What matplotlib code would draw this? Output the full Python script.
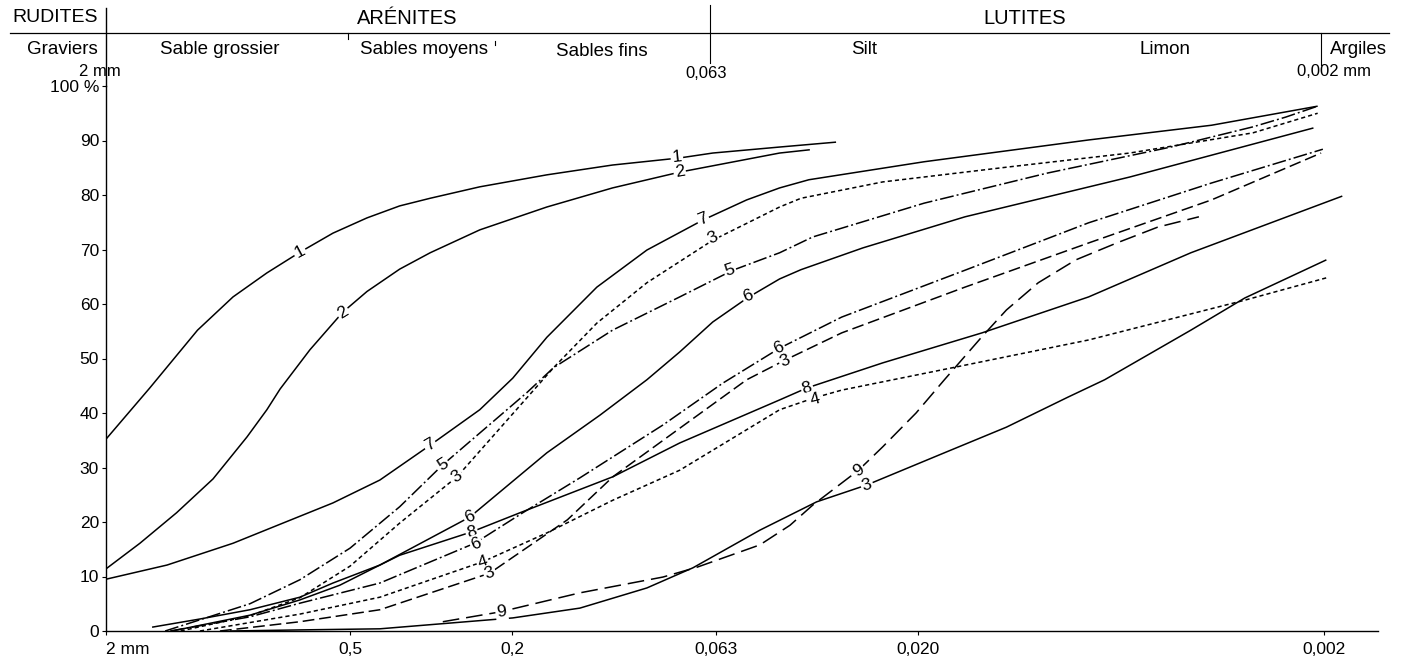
import matplotlib
matplotlib.use("Agg")
import matplotlib.pyplot as plt
from matplotlib.lines import Line2D

plt.rcParams['font.family'] = ['Liberation Sans', 'DejaVu Sans']
plt.rcParams['lines.scale_dashes'] = False

# ---------------- data (grain size in mm, cumulative %) ----------------
c1_size = [2.0, 1.56, 1.19, 0.973, 0.803, 0.666, 0.552, 0.455, 0.378, 0.318, 0.240, 0.164, 0.113, 0.0772, 0.0640, 0.0438, 0.0318]
c1_pct = [35.2, 44.6, 55.2, 61.3, 65.7, 69.5, 73.0, 75.8, 78.0, 79.4, 81.5, 83.7, 85.5, 86.8, 87.7, 88.8, 89.7]

c2_size = [2.0, 1.65, 1.34, 1.09, 0.899, 0.803, 0.745, 0.629, 0.522, 0.455, 0.378, 0.318, 0.240, 0.164, 0.113, 0.0772, 0.0438, 0.0369]
c2_pct = [11.4, 16.1, 21.7, 27.9, 35.6, 40.6, 44.4, 51.6, 58.5, 62.3, 66.4, 69.4, 73.6, 77.8, 81.3, 84.2, 87.7, 88.3]

c7_size = [2.0, 1.415, 0.973, 0.733, 0.552, 0.423, 0.318, 0.240, 0.199, 0.164, 0.1235, 0.0930, 0.0677, 0.0528, 0.0438, 0.0371, 0.0193, 0.00759, 0.00378, 0.00207]
c7_pct = [9.5, 12.1, 16.1, 19.8, 23.5, 27.7, 34.1, 40.6, 46.4, 53.9, 63.1, 69.9, 75.4, 79.1, 81.3, 82.8, 86.1, 90.1, 92.8, 96.3]

c5_size = [1.43, 0.884, 0.666, 0.501, 0.378, 0.296, 0.184, 0.158, 0.113, 0.0772, 0.0571, 0.0438, 0.0363, 0.0193, 0.00962, 0.00476, 0.00299, 0.00248, 0.00207]
c5_pct = [0, 5.0, 9.4, 15.2, 22.8, 30.5, 43.7, 48.3, 55.2, 61.3, 66.2, 69.4, 72.3, 78.5, 84.0, 88.8, 92.5, 94.3, 96.3]

c3a_size = [1.31, 0.884, 0.666, 0.501, 0.378, 0.273, 0.158, 0.1235, 0.0930, 0.0640, 0.0438, 0.0388, 0.0244, 0.0121, 0.00601, 0.00299, 0.00207]
c3a_pct = [0, 2.8, 6.1, 11.9, 19.8, 28.3, 48.3, 56.5, 63.9, 71.7, 77.8, 79.4, 82.4, 85.1, 87.7, 91.4, 95.0]

c6a_size = [1.375, 0.884, 0.666, 0.531, 0.423, 0.254, 0.164, 0.1214, 0.0930, 0.0772, 0.0640, 0.0524, 0.0438, 0.0388, 0.0273, 0.0153, 0.00601, 0.00212]
c6a_pct = [0, 2.9, 5.7, 8.4, 12.1, 20.9, 32.7, 39.6, 46.1, 51.2, 56.7, 61.2, 64.6, 66.3, 70.3, 76.0, 83.3, 92.3]

c8_size = [1.54, 1.174, 0.884, 0.666, 0.552, 0.423, 0.378, 0.251, 0.191, 0.1128, 0.0772, 0.0438, 0.0375, 0.0244, 0.0139, 0.00759, 0.00425, 0.00180]
c8_pct = [0.7, 2.2, 3.9, 6.2, 8.8, 12.1, 13.9, 18.2, 21.7, 28.3, 34.5, 42.4, 44.6, 49.2, 54.7, 61.3, 69.4, 79.8]

c6b_size = [1.39, 0.884, 0.666, 0.423, 0.247, 0.188, 0.136, 0.0849, 0.0604, 0.0438, 0.0308, 0.0153, 0.00759, 0.00378, 0.00201]
c6b_pct = [0, 2.6, 5.1, 8.8, 16.1, 21.7, 28.1, 37.8, 45.5, 51.9, 57.6, 66.2, 74.9, 82.2, 88.4]

c4_size = [1.174, 0.666, 0.423, 0.236, 0.164, 0.1128, 0.0772, 0.0438, 0.0359, 0.0308, 0.0162, 0.00759, 0.00313, 0.00197]
c4_pct = [0, 3.1, 6.2, 12.7, 18.0, 24.0, 29.5, 40.6, 42.8, 44.2, 48.4, 53.4, 60.7, 64.8]

c3b_size = [1.048, 0.666, 0.423, 0.227, 0.146, 0.1128, 0.0772, 0.0528, 0.0425, 0.0308, 0.0153, 0.00759, 0.00378, 0.00203]
c3b_pct = [0, 1.7, 3.9, 10.6, 20.4, 28.3, 37.2, 46.1, 49.7, 54.7, 63.1, 71.2, 79.1, 87.7]

c9_size = [0.296, 0.214, 0.136, 0.0849, 0.0700, 0.0490, 0.0413, 0.0363, 0.0280, 0.0244, 0.0202, 0.0172, 0.0139, 0.0121, 0.0101, 0.00816, 0.00647, 0.00513, 0.00406]
c9_pct = [1.7, 3.5, 7.0, 9.9, 11.7, 15.8, 19.4, 23.1, 29.5, 33.8, 40.0, 46.1, 54.0, 58.9, 63.9, 68.1, 71.2, 74.1, 76.0]

c3c_size = [0.990, 0.666, 0.423, 0.199, 0.136, 0.0930, 0.0716, 0.0490, 0.0355, 0.0267, 0.0172, 0.0121, 0.00854, 0.00693, 0.00425, 0.00313, 0.00197]
c3c_pct = [0, 0.2, 0.4, 2.4, 4.2, 7.9, 11.6, 18.5, 23.7, 26.8, 32.7, 37.4, 42.9, 46.1, 55.2, 61.1, 68.1]

# curve labels: text, size (mm), percent, rotation
label_text = ['1', '1', '2', '2', '7', '7', '5', '5', '3', '3', '6', '6', '8', '8',
              '6', '6', '4', '4', '3', '3', '9', '9', '3']
label_size = [0.666, 0.0785, 0.522, 0.0772, 0.318, 0.0677, 0.296, 0.0581, 0.273, 0.0640, 0.254, 0.0524, 0.251, 0.0375,
              0.245, 0.0440, 0.236, 0.0359, 0.227, 0.0425, 0.212, 0.0280, 0.0267]
label_pct = [69.5, 87.0, 58.5, 84.2, 34.1, 75.6, 30.5, 66.2, 28.3, 72.1, 20.9, 61.5, 18.0, 44.6,
             16.0, 52.0, 12.6, 42.5, 10.6, 49.6, 3.5, 29.5, 26.8]
label_rot = [28, 6, 32, 10, 30, 22, 32, 18, 35, 26, 24, 22, 15, 17,
             22, 25, 18, 15, 20, 24, 8, 35, 18]

x_ticks = [2, 0.5, 0.2, 0.063, 0.020, 0.002]
x_ticklabels = ['2 mm', '0,5', '0,2', '0,063', '0,020', '0,002']
y_ticks = [0, 10, 20, 30, 40, 50, 60, 70, 80, 90, 100]
y_ticklabels = ['0', '10', '20', '30', '40', '50', '60', '70', '80', '90', '100 %']

# ---------------- styles ----------------
SOLID = '-'
DOTTED = (0, (3.0, 2.2))
DASHDOT = (0, (10, 2.2, 1.4, 2.2))
LDASH = (0, (8.5, 3.5))
XLDASH = (0, (12, 5))

curves = [
    (c1_size, c1_pct, SOLID), (c2_size, c2_pct, SOLID), (c7_size, c7_pct, SOLID),
    (c5_size, c5_pct, DASHDOT), (c3a_size, c3a_pct, DOTTED), (c6a_size, c6a_pct, SOLID),
    (c8_size, c8_pct, SOLID), (c6b_size, c6b_pct, DASHDOT), (c4_size, c4_pct, DOTTED),
    (c3b_size, c3b_pct, LDASH), (c9_size, c9_pct, XLDASH), (c3c_size, c3c_pct, SOLID),
]

W, H = 1404, 661
fig = plt.figure(figsize=(W / 100, H / 100), dpi=100)
fig.patch.set_facecolor('white')

def fx(px):
    return px / W

def fy(py):
    return 1 - py / H

ax_l, ax_r, ax_t, ax_b = 106, 1378, 86, 631
ax = fig.add_axes([fx(ax_l), fy(ax_b), fx(ax_r) - fx(ax_l), fy(ax_t) - fy(ax_b)])
ax.set_xscale('log')
ax.set_xlim(2.0, 0.00147)
ax.set_ylim(0, 100)

for xs, ys, ls in curves:
    ax.plot(xs, ys, color='black', lw=1.1, linestyle=ls, solid_capstyle='butt',
            solid_joinstyle='round', zorder=2)

for t, xs, ys, r in zip(label_text, label_size, label_pct, label_rot):
    ax.text(xs, ys, t, fontsize=12.5, ha='center', va='center', rotation=r,
            rotation_mode='anchor', zorder=4,
            bbox=dict(boxstyle='square,pad=0.08', fc='white', ec='none'))

ax.set_xticks(x_ticks)
ax.set_xticklabels(x_ticklabels, fontsize=12.5)
ax.xaxis.set_minor_locator(matplotlib.ticker.NullLocator())
ax.set_yticks(y_ticks)
ax.set_yticklabels(y_ticklabels, fontsize=12.5)
ax.tick_params(axis='x', direction='out', length=3, width=0.8, pad=5)
ax.tick_params(axis='y', direction='out', length=3, width=0.8, pad=2)
ax.get_xticklabels()[0].set_horizontalalignment('left')

for s in ['top', 'right']:
    ax.spines[s].set_visible(False)
ax.spines['left'].set_linewidth(1.0)
ax.spines['bottom'].set_linewidth(1.0)

# ---------------- header ----------------
def hline(x0, x1, y, lw=1.0):
    fig.add_artist(Line2D([fx(x0), fx(x1)], [fy(y), fy(y)], color='black', lw=lw))

def vline(x, y0, y1, lw=1.0):
    fig.add_artist(Line2D([fx(x), fx(x)], [fy(y0), fy(y1)], color='black', lw=lw))

hline(10, 1389, 33, lw=0.9)
vline(106, 8, ax_t, lw=1.0)
vline(710, 5, 63, lw=0.8)
vline(1321, 33, 65, lw=0.8)
vline(348, 33, 39, lw=0.8)
vline(495, 41, 45, lw=0.8)

def ftext(x, y, s, size, ha='center'):
    fig.text(fx(x), fy(y), s, fontsize=size, ha=ha, va='center')

ftext(12, 18, 'RUDITES', 14, ha='left')
ftext(407, 19, 'ARÉNITES', 14.5)
ftext(1025, 18, 'LUTITES', 14.5)
ftext(98, 49, 'Graviers', 13.5, ha='right')
ftext(220, 50, 'Sable grossier', 13.5)
ftext(424, 50, 'Sables moyens', 13.5)
ftext(602, 51, 'Sables fins', 13.5)
ftext(864, 50, 'Silt', 13.5)
ftext(1165, 50, 'Limon', 13.5)
ftext(1358, 50, 'Argiles', 13.5)
ftext(100, 72, '2 mm', 12)
ftext(706, 73, '0,063', 12)
ftext(1334, 72, '0,002 mm', 12)

fig.savefig('out.png', dpi=100, facecolor='white')
